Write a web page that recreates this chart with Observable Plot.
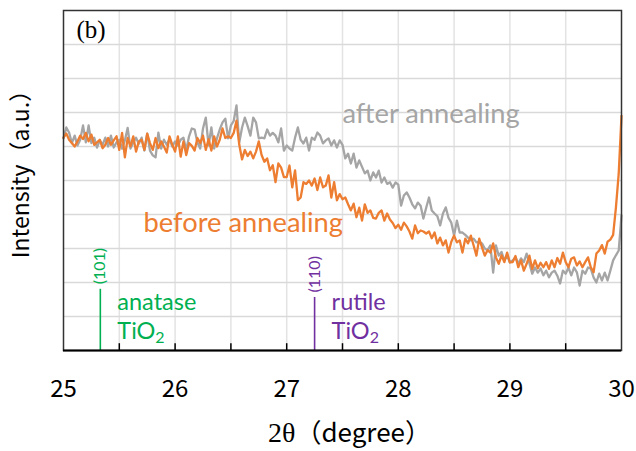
<!DOCTYPE html>
<html><head><meta charset="utf-8">
<script src="https://cdn.jsdelivr.net/npm/d3@7"></script>
<script src="https://cdn.jsdelivr.net/npm/@observablehq/plot@0.6"></script>
<style>body{margin:0;background:#fff;}#chart{width:636px;height:451px;}</style>
</head><body><div id="chart"></div>
<script>
// 2θ sampling
const twoThetaStart = 25;
const twoThetaStep = 0.025;
// Intensity (a.u.) before annealing
const beforeAnnealing = [
6.26,6.38,6.2,6.1,6.0,6.15,6.32,6.22,6.4,6.15,
6.35,6.05,6.12,6.2,5.95,6.05,6.25,6.05,6.18,6.3,
5.9,6.4,5.68,6.25,6.0,6.3,5.85,6.15,6.2,5.9,
6.38,6.1,5.9,6.25,5.95,6.15,6.0,5.82,6.3,6.05,
5.85,
6.3,5.7,6.15,5.75,6.1,6.02,5.88,6.25,6.1,6.32,
5.9,6.22,5.88,6.3,6.0,6.2,6.53,6.25,6.3,6.25,
6.4,6.76,6.05,5.62,5.9,5.72,5.85,5.65,5.85,6.15,
5.75,5.55,5.65,5.3,5.45,4.95,5.5,5.38,5.1,5.1,
5.44,4.8,5.3,4.42,4.5,4.95,4.9,5.0,4.85,5.06,
4.72,5.09,4.8,4.85,5.15,4.5,4.95,4.42,4.6,4.45,
4.5,4.3,4.12,4.32,3.92,4.2,3.82,4.3,4.05,4.12,
3.9,3.88,4.05,4.12,3.82,4.03,3.85,3.75,3.6,3.7,
3.55,3.76,3.65,3.5,3.29,3.68,3.45,3.53,3.5,3.44,
3.5,3.3,3.47,3.15,3.32,3.09,3.24,2.88,3.2,3.38,
3.18,3.24,2.88,3.29,3.15,3.38,3.09,2.79,3.29,3.03,
2.79,2.95,2.88,3.15,2.74,2.55,2.8,2.6,2.88,2.59,
2.6,2.78,2.45,2.65,2.35,2.55,2.79,2.4,2.65,2.42,
2.58,2.45,2.6,2.4,2.65,2.45,2.72,2.55,2.88,2.6,
2.45,2.7,2.74,2.5,2.62,2.45,2.6,2.74,2.45,2.3,
2.85,2.94,3.1,2.85,3.2,3.26,3.4,4.2,5.2,6.9
];
// Intensity (a.u.) after annealing
const afterAnnealing = [
6.24,6.56,6.41,6.1,6.32,6.03,6.2,6.62,6.12,6.62,
6.1,6.26,5.97,6.18,6.05,6.26,6.0,6.32,5.97,6.12,
6.2,5.94,6.18,6.55,5.94,6.12,6.26,6.08,6.26,5.88,
6.38,5.88,5.74,5.68,6.41,5.94,6.2,6.05,6.22,6.0,
6.15,
6.03,6.2,6.26,5.88,6.3,6.53,6.5,6.12,5.94,6.53,
6.85,6.03,6.56,5.94,6.24,6.5,6.71,6.82,6.24,6.62,
6.75,7.21,6.12,6.56,6.85,6.6,6.32,6.85,6.71,6.24,
6.26,6.24,6.5,6.32,6.4,6.32,6.12,6.53,5.88,6.03,
5.94,5.88,6.26,6.56,6.2,6.09,6.26,5.88,6.26,6.2,
6.41,6.32,6.09,6.18,6.24,6.03,6.18,5.97,6.18,6.05,
5.65,5.79,5.5,5.79,5.38,5.59,5.4,5.21,5.29,5.0,
5.24,5.09,5.29,4.94,5.09,4.9,4.95,4.79,4.94,4.88,
4.26,4.56,4.65,4.5,4.3,4.18,4.35,4.26,3.88,4.2,
4.5,4.12,4.03,3.95,3.68,4.03,4.21,3.9,3.76,3.38,
3.82,3.47,3.47,3.4,3.32,3.24,3.29,3.18,3.2,3.15,
3.0,2.95,3.09,2.29,3.09,2.79,2.9,2.65,2.79,2.59,
2.65,2.74,2.56,2.71,2.6,2.85,2.56,2.26,2.44,2.29,
2.41,2.21,2.35,2.15,2.29,2.35,2.2,1.97,2.35,2.26,
2.44,2.21,2.44,2.3,1.91,2.35,2.26,2.44,2.41,2.15,
2.0,2.26,2.06,2.29,2.06,2.35,2.65,2.8,2.94,3.97
];
// x tick labels
const tickValues = [25, 26, 27, 28, 29, 30];
// reference peaks
const peakAngles = [25.33, 27.25];
const peakHkl = ["(101)", "(110)"];
const peakPhase = ["anatase", "rutile"];
const peakCompound = ["TiO2", "TiO2"];
const peakHeight = [1.8, 1.56];

const toRows = arr => arr.map((v, i) => ({t: twoThetaStart + i * twoThetaStep, v}));
const beforeRows = toRows(beforeAnnealing);
const afterRows = toRows(afterAnnealing);
const peakColors = ["#00b050", "#7030a0"];
const peaks = peakAngles.map((a, i) => ({angle: a, hkl: peakHkl[i], phase: peakPhase[i], compound: peakCompound[i], height: peakHeight[i], color: peakColors[i]}));

const gothic = "'Noto Sans CJK JP', 'Noto Sans', sans-serif";
const calib = "Lato, 'Open Sans', sans-serif";
const serif = "'Liberation Serif', 'DejaVu Serif', serif";

const chart = Plot.plot({
  width: 636, height: 451,
  marginLeft: 63, marginRight: 15, marginTop: 10, marginBottom: 101,
  x: {domain: [25, 30], label: null},
  y: {domain: [0, 10], label: null, axis: null},
  style: {background: "#fff", overflow: "visible"},
  marks: [
    Plot.gridX(d3.range(25.5, 30, 0.5), {stroke: "#e3e3e3", strokeOpacity: 1, strokeWidth: 1.5}),
    Plot.gridY(d3.range(1, 10, 1), {stroke: "#d9d9d9", strokeOpacity: 1, strokeWidth: 1.5}),
    Plot.line(afterRows, {x: "t", y: "v", stroke: "#a5a5a5", strokeWidth: 2.3, strokeLinejoin: "round"}),
    Plot.line(beforeRows, {x: "t", y: "v", stroke: "#ed7d31", strokeWidth: 2.3, strokeLinejoin: "round"}),
    Plot.ruleX(peaks, {x: "angle", y1: 0, y2: "height", stroke: "color", strokeWidth: 1.6}),
    Plot.text(peaks, {x: "angle", y: "height", text: "hkl", rotate: -90, textAnchor: "start", lineAnchor: "middle", dx: 0, dy: -5, fill: "color", fontSize: 16, fontFamily: calib}),
    Plot.text(peaks, {x: "angle", frameAnchor: "bottom", text: "phase", textAnchor: "start", lineAnchor: "bottom", dx: 17, dy: -41, fill: "color", fontSize: 23.5, fontFamily: calib}),
    Plot.text(peaks, {x: "angle", frameAnchor: "bottom", text: "compound", textAnchor: "start", lineAnchor: "bottom", dx: 17, dy: -12, fill: "color", fontSize: 23.5, fontFamily: calib}),
    Plot.text(["after annealing"], {x: 27.5, y: 6.7, textAnchor: "start", lineAnchor: "bottom", fill: "#a5a5a5", fontSize: 27.3, fontFamily: calib}),
    Plot.text(["before annealing"], {x: 25.717, y: 3.5, textAnchor: "start", lineAnchor: "bottom", fill: "#ed7d31", fontSize: 27.3, fontFamily: calib}),
    Plot.frame({stroke: "#333", strokeWidth: 1.5}),
    Plot.ruleY([0], {stroke: "#000", strokeWidth: 2}),
    Plot.ruleX(d3.range(25.5, 30, 0.5), {x: d => d, y1: 0, y2: 0.2, stroke: "#000", strokeWidth: 1.5}),
    Plot.axisX({ticks: tickValues, tickFormat: d => String(d), anchor: "bottom", tickSize: 0, tickPadding: 29, fontSize: 24, fontFamily: gothic, fill: "#000", label: null}),
    Plot.text(["(b)"], {frameAnchor: "top-left", dx: 13, dy: 27, textAnchor: "start", lineAnchor: "bottom", fontSize: 25, fontFamily: serif, fill: "#000"}),
    Plot.text(["2θ（degree）"], {frameAnchor: "bottom", dx: 7, dy: 91, textAnchor: "middle", lineAnchor: "bottom", fontSize: 26, fontFamily: gothic, fill: "#000"}),
    Plot.text(["Intensity（a.u.）"], {frameAnchor: "left", dx: -42, dy: -12, rotate: -90, textAnchor: "middle", lineAnchor: "middle", fontSize: 23, fontFamily: gothic, fill: "#000"})
  ]
});
document.getElementById("chart").appendChild(chart);

// rich text post-processing: subscripts and mixed fonts
const ns = "http://www.w3.org/2000/svg";
chart.querySelectorAll("text").forEach(t => {
  if (t.textContent === "TiO2") {
    t.textContent = "TiO";
    const s = document.createElementNS(ns, "tspan");
    s.setAttribute("font-size", "0.68em");
    s.setAttribute("dy", "0.3em");
    s.textContent = "2";
    t.appendChild(s);
  } else if (t.textContent === "2θ（degree）") {
    t.textContent = "";
    const a = document.createElementNS(ns, "tspan");
    a.setAttribute("font-family", serif);
    a.setAttribute("font-size", "28");
    a.textContent = "2θ";
    const b = document.createElementNS(ns, "tspan");
    b.textContent = "（degree）";
    t.appendChild(a); t.appendChild(b);
  }
});
</script></body></html>
